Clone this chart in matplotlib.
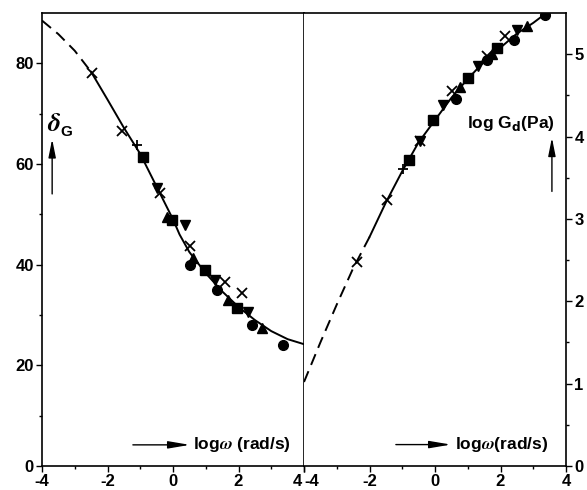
import matplotlib
matplotlib.use("Agg")
import matplotlib.pyplot as plt
from matplotlib.transforms import ScaledTranslation

plt.rcParams['font.family'] = ['Liberation Sans', 'DejaVu Sans']
plt.rcParams['font.weight'] = 'bold'
plt.rcParams['mathtext.fontset'] = 'dejavusans'
plt.rcParams['axes.unicode_minus'] = False

# ---- left panel: phase angle delta_G vs log(omega)
delta_curve_x = [-4, -3.5, -3, -2.5, -2, -1.5, -1, -0.5, 0, 0.2, 0.5, 1, 1.5, 2, 2.5, 3, 3.5, 4]
delta_curve_y = [88.5, 85.8, 82.5, 78.3, 72.8, 67.2, 62.0, 55.5, 49.0, 46.0, 42.5, 38.3, 34.7, 31.6, 29.0, 26.8, 25.2, 24.2]
delta_dash_end = 4  # first 4 points dashed

delta_x_cross = [-2.47, -1.56, -0.4, 0.52, 1.59, 2.1]
delta_y_cross = [78.0, 66.5, 54.2, 43.8, 36.5, 34.3]
delta_x_plus = [-1.1]
delta_y_plus = [63.7]
delta_x_sq = [-0.92, -0.03, 0.98, 1.95]
delta_y_sq = [61.3, 48.8, 38.9, 31.3]
delta_x_dn = [-0.49, 0.37, 1.28, 2.29]
delta_y_dn = [55.2, 47.8, 36.9, 30.6]
delta_x_up = [-0.19, 0.61, 1.68, 2.72]
delta_y_up = [49.4, 41.3, 32.9, 27.4]
delta_x_ci = [0.52, 1.35, 2.41, 3.36]
delta_y_ci = [39.9, 34.9, 28.0, 24.0]

# ---- right panel: log G_d vs log(omega)
g_curve_x = [-4, -3.5, -3, -2.5, -2, -1.5, -1, -0.5, 0, 0.5, 1, 1.5, 2, 2.5, 3, 3.4]
g_curve_y = [1.02, 1.5, 1.96, 2.4, 2.78, 3.2, 3.58, 3.93, 4.2, 4.47, 4.7, 4.91, 5.08, 5.25, 5.38, 5.5]
g_dash_end = 5

g_x_cross = [-2.38, -1.47, -0.46, 0.52, 1.58, 2.14]
g_y_cross = [2.48, 3.23, 3.95, 4.55, 4.98, 5.22]
g_x_plus = [-0.98]
g_y_plus = [3.6]
g_x_sq = [-0.8, -0.06, 1.0, 1.9]
g_y_sq = [3.71, 4.2, 4.71, 5.07]
g_x_dn = [-0.46, 0.24, 1.3, 2.5]
g_y_dn = [3.95, 4.38, 4.86, 5.29]
g_x_up = [0.76, 1.75, 2.8]
g_y_up = [4.6, 5.0, 5.34]
g_x_ci = [0.64, 1.6, 2.4, 3.36]
g_y_ci = [4.46, 4.93, 5.17, 5.48]

xticks = [-4, -2, 0, 2, 4]

fig = plt.figure(figsize=(5.87, 4.9), dpi=100)
ax1 = fig.add_axes([42 / 587, 24 / 490, 262 / 587, 453 / 490])
ax2 = fig.add_axes([304 / 587, 24 / 490, 262 / 587, 453 / 490])

ms = 7


def draw_points(ax, sets):
    for xs, ys, m, kw in sets:
        ax.plot(xs, ys, linestyle='none', marker=m, color='black', ms=ms, **kw)


# left panel
ax1.plot(delta_curve_x[:delta_dash_end], delta_curve_y[:delta_dash_end], color='black', lw=1.4, ls=(0, (6, 3.5)))
ax1.plot(delta_curve_x[delta_dash_end - 1:], delta_curve_y[delta_dash_end - 1:], color='black', lw=1.4)
draw_points(ax1, [
    (delta_x_sq, delta_y_sq, 's', {}),
    (delta_x_dn, delta_y_dn, 'v', {}),
    (delta_x_up, delta_y_up, '^', {}),
    (delta_x_ci, delta_y_ci, 'o', {}),
    (delta_x_cross, delta_y_cross, 'x', {'mew': 1.3}),
    (delta_x_plus, delta_y_plus, '+', {'mew': 1.3}),
])
ax1.set_xlim(-4, 4)
ax1.set_ylim(0, 90)
ax1.set_xticks(xticks)
ax1.set_xticks([-3, -1, 1, 3], minor=True)
ax1.set_yticks([0, 20, 40, 60, 80])
ax1.set_yticks([10, 30, 50, 70], minor=True)
ax1.tick_params(which='major', direction='out', length=4, width=1, labelsize=12, pad=2)
ax1.tick_params(which='minor', direction='out', length=2.5, width=1)
ax1.tick_params(axis='y', right=False)

# delta_G label: italic delta with bold sans subscript
ax1.text(-3.85, 68, r'$\delta$', fontsize=19, ha='left', va='center', math_fontfamily='stix')
ax1.text(-3.45, 66.3, 'G', fontsize=11, ha='left', va='center')
ax1.annotate('', xy=(-3.69, 65.5), xytext=(-3.69, 53.5),
             arrowprops=dict(arrowstyle='-|>,head_length=1.1,head_width=0.22', color='black', lw=1))
ax1.annotate('', xy=(0.6, 4.2), xytext=(-1.31, 4.2),
             arrowprops=dict(arrowstyle='-|>,head_length=1.3,head_width=0.22', color='black', lw=1))
ax1.text(0.62, 4.2, r'log$\mathit{\omega}$ (rad/s)', fontsize=12.5, ha='left', va='center',
         math_fontfamily='stix')

# right panel
ax2.plot(g_curve_x[:g_dash_end], g_curve_y[:g_dash_end], color='black', lw=1.4, ls=(0, (6, 3.5)))
ax2.plot(g_curve_x[g_dash_end - 1:], g_curve_y[g_dash_end - 1:], color='black', lw=1.4)
draw_points(ax2, [
    (g_x_sq, g_y_sq, 's', {}),
    (g_x_dn, g_y_dn, 'v', {}),
    (g_x_up, g_y_up, '^', {}),
    (g_x_ci, g_y_ci, 'o', {}),
    (g_x_cross, g_y_cross, 'x', {'mew': 1.3}),
    (g_x_plus, g_y_plus, '+', {'mew': 1.3}),
])
ax2.set_xlim(-4, 4)
ax2.set_ylim(0, 5.5)
ax2.set_xticks(xticks)
ax2.set_xticks([-3, -1, 1, 3], minor=True)
ax2.set_yticks([0, 1, 2, 3, 4, 5])
ax2.set_yticks([0.5, 1.5, 2.5, 3.5, 4.5], minor=True)
ax2.yaxis.tick_right()
ax2.tick_params(which='major', direction='out', length=4, width=1, labelsize=12, pad=2)
ax2.tick_params(which='minor', direction='out', length=2.5, width=1)
ax2.tick_params(axis='y', left=False)
ax2.spines['left'].set_visible(False)

ax2.text(0.98, 4.16, r'log G$_\mathbf{d}$(Pa)', fontsize=12.5, ha='left', va='center')
ax2.annotate('', xy=(3.57, 4.02), xytext=(3.57, 3.3),
             arrowprops=dict(arrowstyle='-|>,head_length=1.1,head_width=0.22', color='black', lw=1))
ax2.annotate('', xy=(0.57, 0.26), xytext=(-1.28, 0.26),
             arrowprops=dict(arrowstyle='-|>,head_length=1.3,head_width=0.22', color='black', lw=1))
ax2.text(0.62, 0.26, r'log$\mathit{\omega}$(rad/s)', fontsize=12.5, ha='left', va='center',
         math_fontfamily='stix')

for ax in (ax1, ax2):
    for sp in ax.spines.values():
        sp.set_linewidth(1.2)

# pull the shared "4 -4" labels apart at the panel junction
lab = ax1.get_xticklabels()[-1]
lab.set_transform(lab.get_transform() + ScaledTranslation(-7 / 100, 0, fig.dpi_scale_trans))
lab = ax2.get_xticklabels()[0]
lab.set_transform(lab.get_transform() + ScaledTranslation(8 / 100, 0, fig.dpi_scale_trans))

fig.savefig('out.png', dpi=100)
